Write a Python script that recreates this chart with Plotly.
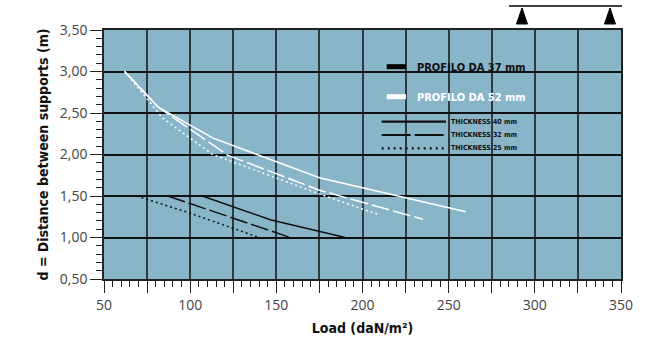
import plotly.graph_objects as go

# ---- data ----
# PROFILO DA 52 mm (white curves)
w40_x = [62, 81.5, 113, 175, 260]
w40_y = [3.0, 2.57, 2.20, 1.72, 1.31]
w32_x = [62, 81.5, 122, 175, 235]
w32_y = [3.0, 2.57, 1.99, 1.57, 1.22]
w25_x = [62, 70, 84, 113, 177, 210]
w25_y = [3.0, 2.80, 2.44, 2.00, 1.51, 1.27]
# PROFILO DA 37 mm (black curves)
b40_x = [107, 147, 190]
b40_y = [1.5, 1.21, 1.0]
b32_x = [87, 147, 158]
b32_y = [1.5, 1.07, 1.0]
b25_x = [69, 99, 140]
b25_y = [1.5, 1.3, 1.0]

x_tickvals = [50, 75, 100, 125, 150, 175, 200, 225, 250, 275, 300, 325, 350]
x_ticktext = ["50", "", "100", "", "150", "", "200", "", "250", "", "300", "", "350"]
profile_labels = ["PROFILO DA 37 mm", "PROFILO DA 52 mm"]
thickness_labels = ["THICKNESS 40 mm", "THICKNESS 32 mm", "THICKNESS 25 mm"]

BG = "#89B5C9"
NARROW = "DejaVu Sans Condensed, Liberation Sans Narrow, Roboto, sans-serif"

fig = go.Figure()

def add(x, y, color, dash, width=1.5):
    fig.add_trace(go.Scatter(x=x, y=y, mode="lines",
                             line=dict(color=color, dash=dash, width=width),
                             showlegend=False, hoverinfo="skip"))

add(w25_x, w25_y, "white", "2px,3px")
add(w32_x, w32_y, "white", "18px,4px")
add(w40_x, w40_y, "white", "solid")
add(b25_x, b25_y, "#111111", "2px,3px")
add(b32_x, b32_y, "#111111", "18px,4px")
add(b40_x, b40_y, "#111111", "solid")

shapes = []
# legend bars for profiles
shapes.append(dict(type="rect", xref="paper", yref="paper", x0=0.5468, x1=0.5841,
                   y0=0.8426, y1=0.8627, fillcolor="black", line=dict(width=0)))
shapes.append(dict(type="rect", xref="paper", yref="paper", x0=0.5468, x1=0.5841,
                   y0=0.7221, y1=0.7422, fillcolor="white", line=dict(width=0)))
# legend samples for thickness
for yy, dash in [(0.6317, "solid"), (0.5783, "29px,4px"), (0.5249, "2px,4px")]:
    shapes.append(dict(type="line", xref="paper", yref="paper", x0=0.5371, x1=0.6615,
                       y0=yy, y1=yy, line=dict(color="#111111", width=2.2, dash=dash)))
# beam with supports above the chart
shapes.append(dict(type="line", xref="paper", yref="paper", x0=0.7834, x1=1.002,
                   y0=1.0964, y1=1.0964, line=dict(color="black", width=1.5)))
for cx in [0.8085, 0.9787]:
    shapes.append(dict(type="path", xref="paper", yref="paper",
                       path=f"M {cx-0.0106},1.0241 L {cx+0.0106},1.0241 L {cx},1.0884 Z",
                       fillcolor="black", line=dict(color="black", width=1)))

annotations = []
annotations.append(dict(xref="paper", yref="paper", x=0.6015, y=0.8514, xanchor="left",
                        yanchor="middle", showarrow=False, text="<b>" + profile_labels[0] + "</b>",
                        font=dict(family=NARROW, size=11, color="#111111")))
annotations.append(dict(xref="paper", yref="paper", x=0.6015, y=0.7309, xanchor="left",
                        yanchor="middle", showarrow=False, text="<b>" + profile_labels[1] + "</b>",
                        font=dict(family=NARROW, size=11, color="white")))
for yy, t in zip([0.6317, 0.5783, 0.5249], thickness_labels):
    annotations.append(dict(xref="paper", yref="paper", x=0.6679, y=yy, xanchor="left",
                            yanchor="middle", showarrow=False, text="<b>" + t + "</b>",
                            font=dict(family=NARROW, size=7, color="#111111")))

fig.update_layout(
    width=668, height=339,
    margin=dict(l=104, r=47, t=30, b=60),
    plot_bgcolor=BG, paper_bgcolor="white",
    separators=",.",
    shapes=shapes, annotations=annotations,
    font=dict(family="Open Sans, sans-serif", color="#444444", size=14),
)
fig.update_xaxes(
    range=[50, 350], tickmode="array", tickvals=x_tickvals, ticktext=x_ticktext,
    ticks="outside", ticklen=12, tickwidth=1, tickcolor="#222222",
    showgrid=True, gridcolor="#2E3A40", gridwidth=1.8,
    showline=True, linecolor="#222222", linewidth=1.5, mirror=True,
    zeroline=False, automargin=False,
    minor=dict(dtick=5, tick0=50, ticks="outside", ticklen=6, tickcolor="#222222", showgrid=False),
    tickfont=dict(size=14, color="#444444"),
    title=dict(text="<b>Load (daN/m²)</b>", standoff=11,
               font=dict(family=NARROW, size=14, color="#111111")),
)
fig.update_yaxes(
    range=[0.5, 3.5], dtick=0.5, tick0=0.5, tickformat=".2f",
    ticks="outside", ticklen=12, tickwidth=1, tickcolor="#222222",
    showgrid=True, gridcolor="#111111", gridwidth=1.5,
    showline=True, linecolor="#222222", linewidth=1.5, mirror=True,
    zeroline=False, automargin=False,
    minor=dict(dtick=0.1, tick0=0.5, ticks="outside", ticklen=6, tickcolor="#222222", showgrid=False),
    tickfont=dict(size=14, color="#444444"),
    title=dict(text="<b>d = Distance between supports (m)</b>", standoff=8,
               font=dict(family=NARROW, size=14, color="#111111")),
)

fig.write_html("out.html", config={"displayModeBar": False},
               post_script="document.body.style.margin='0';")
